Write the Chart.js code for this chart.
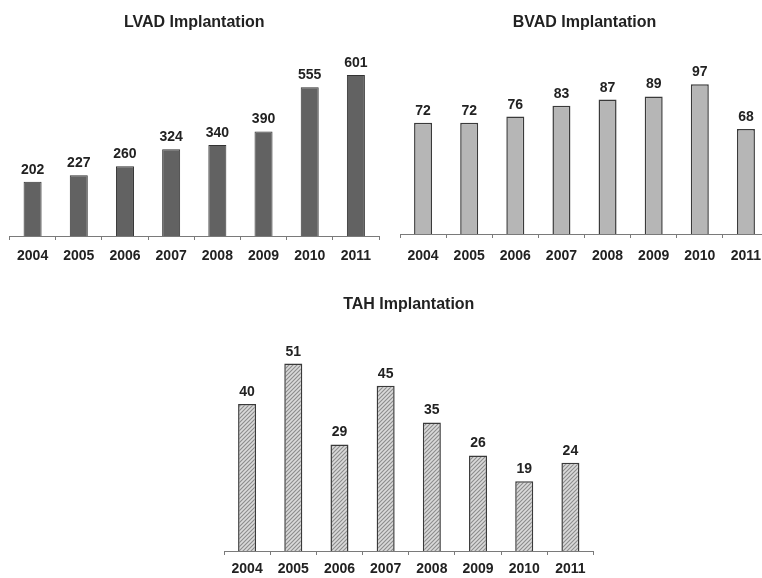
<!DOCTYPE html>
<html><head><meta charset="utf-8">
<script src="https://cdn.jsdelivr.net/npm/chart.js@4.4.0/dist/chart.umd.min.js"></script>
<style>
html,body{margin:0;padding:0;background:#fff;}
body{width:762px;height:578px;overflow:hidden;position:relative;}
canvas{position:absolute;}
</style></head><body>
<canvas id="lvad" width="390" height="280" style="left:0px;top:0px"></canvas>
<canvas id="bvad" width="390" height="280" style="left:390px;top:0px"></canvas>
<canvas id="tah" width="390" height="310" style="left:214px;top:280px"></canvas>
<script>
const years = ['2004', '2005', '2006', '2007', '2008', '2009', '2010', '2011'];
const lvadValues = [202, 227, 260, 324, 340, 390, 555, 601];
const bvadValues = [72, 72, 76, 83, 87, 89, 97, 68];
const tahValues = [40, 51, 29, 45, 35, 26, 19, 24];
const lvadTitle = 'LVAD Implantation';
const bvadTitle = 'BVAD Implantation';
const tahTitle = 'TAH Implantation';

const FONT = "'Liberation Sans', Arial, Helvetica, sans-serif";

function hatchPattern() {
  const c = document.createElement('canvas');
  c.width = 4; c.height = 4;
  const g = c.getContext('2d');
  g.fillStyle = '#dadada';
  g.fillRect(0, 0, 4, 4);
  g.strokeStyle = '#8c8c8c';
  g.lineWidth = 1.1;
  g.beginPath();
  g.moveTo(-1, 5); g.lineTo(5, -1);
  g.moveTo(-1, 1); g.lineTo(1, -1);
  g.moveTo(3, 5); g.lineTo(5, 3);
  g.stroke();
  return g.createPattern(c, 'repeat');
}

const valueLabels = {
  id: 'valueLabels',
  afterDatasetsDraw(chart) {
    const ctx = chart.ctx;
    const meta = chart.getDatasetMeta(0);
    const data = chart.data.datasets[0].data;
    ctx.save();
    ctx.font = 'bold 14px ' + FONT;
    ctx.fillStyle = '#222';
    ctx.textAlign = 'center';
    ctx.textBaseline = 'alphabetic';
    meta.data.forEach((bar, i) => ctx.fillText(String(data[i]), bar.x, bar.y - 8));
    ctx.restore();
  }
};

function makeChart(id, labels, values, title, fill, border, borderW, yMax, pad, titlePad, tickPad) {
  return new Chart(document.getElementById(id), {
    type: 'bar',
    data: {
      labels: labels,
      datasets: [{
        data: values,
        backgroundColor: fill,
        borderColor: border,
        borderWidth: borderW,
        barPercentage: 0.39,
        categoryPercentage: 1.0
      }]
    },
    options: {
      responsive: false,
      animation: false,
      devicePixelRatio: 1,
      layout: { padding: pad },
      plugins: {
        legend: { display: false },
        tooltip: { enabled: false },
        title: {
          display: true,
          text: title,
          color: '#222',
          font: { family: FONT, size: 16, weight: 'bold', lineHeight: 1.2 },
          padding: titlePad
        }
      },
      scales: {
        x: {
          offset: true,
          border: { display: true, color: '#7a7a7a', width: 1 },
          grid: { display: true, drawOnChartArea: false, drawTicks: true, tickLength: 4, color: '#7a7a7a', offset: true },
          ticks: { color: '#222', padding: tickPad, font: { family: FONT, size: 14, weight: 'bold', lineHeight: 1.2 } }
        },
        y: { display: false, min: 0, max: yMax }
      }
    },
    plugins: [valueLabels]
  });
}

makeChart('lvad', years, lvadValues, lvadTitle, '#626262', '#333', 1, 700,
  { left: 9.5, right: 11, top: 0, bottom: 8 }, { top: 13, bottom: 16.2 }, 7.6);
makeChart('bvad', years, bvadValues, bvadTitle, '#b6b6b6', '#3a3a3a', 1.5, 120,
  { left: 10, right: 11, top: 0, bottom: 6 }, { top: 13, bottom: 16.4 }, 9.6);
makeChart('tah', years, tahValues, tahTitle, hatchPattern(), '#3a3a3a', 1.5, 60,
  { left: 10, right: 10.5, top: 0, bottom: 6.4 }, { top: 15.4, bottom: 15.9 }, 5.9);
</script>
</body></html>
